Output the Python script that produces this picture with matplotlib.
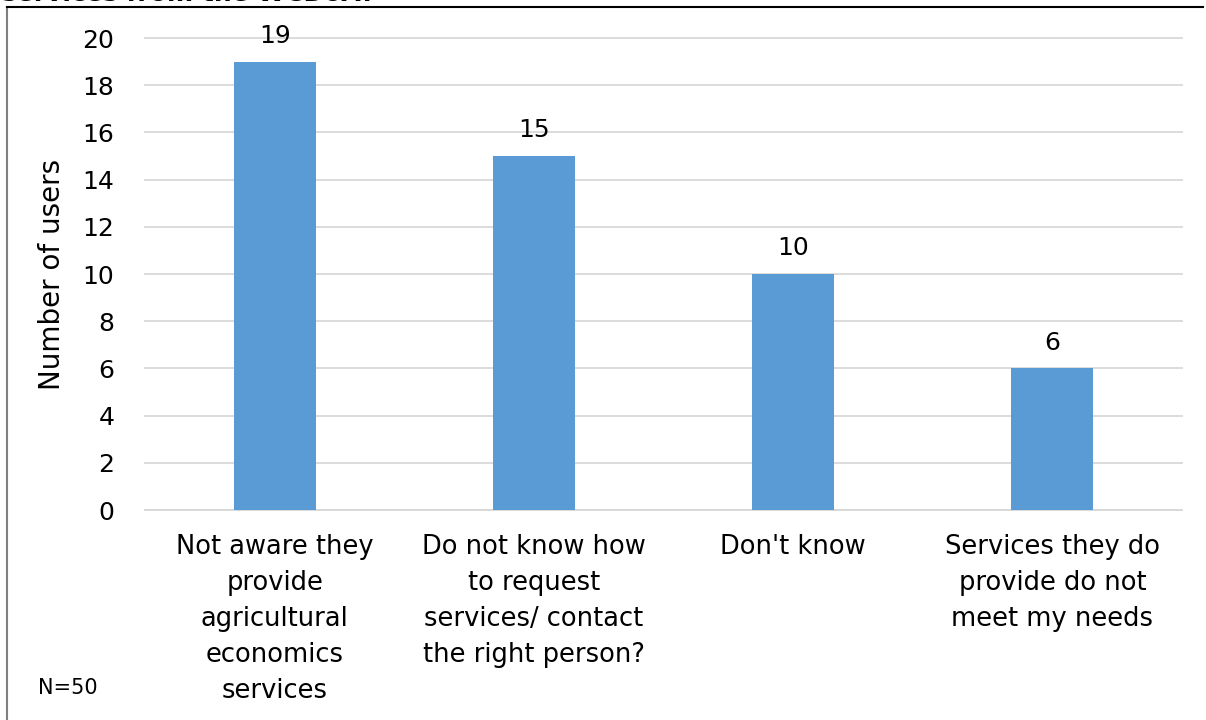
import matplotlib.pyplot as plt
from matplotlib.lines import Line2D

categories = [
    "Not aware they\nprovide\nagricultural\neconomics\nservices",
    "Do not know how\nto request\nservices/ contact\nthe right person?",
    "Don't know",
    "Services they do\nprovide do not\nmeet my needs",
]
values = [19, 15, 10, 6]
yticks = [0, 2, 4, 6, 8, 10, 12, 14, 16, 18, 20]

plt.rcParams['font.family'] = ['DejaVu Sans']

fig = plt.figure(figsize=(12.06, 7.2), dpi=100)
ax = fig.add_axes([145 / 1206, 1 - 510 / 720, (1182 - 145) / 1206, (510 - 38) / 720])

x = range(len(values))
bars = ax.bar(x, values, width=0.316, color='#5b9bd5', zorder=3)

# value labels over the bars
for b, v in zip(bars, values):
    ax.annotate(str(v), (b.get_x() + b.get_width() / 2, v), xytext=(0, 10),
                textcoords='offset points', ha='center', va='bottom',
                fontsize=18, color='#000000')

ax.set_xlim(-0.5, len(values) - 0.5)
ax.set_ylim(0, 20)
ax.set_yticks(yticks)
ax.set_xticks(list(x))
ax.set_xticklabels(categories, fontsize=18.5, linespacing=1.5, va='top')
ax.tick_params(axis='y', labelsize=18, length=0, pad=22)
ax.tick_params(axis='x', length=0, pad=17)
ax.grid(axis='y', color='#d9d9d9', linewidth=1.3, zorder=0)
for gl in ax.get_ygridlines():
    gl.set_clip_on(False)
for s in ['top', 'right', 'left']:
    ax.spines[s].set_visible(False)
ax.spines['bottom'].set_color('#d9d9d9')
ax.spines['bottom'].set_linewidth(1.3)

ax.set_ylabel("Number of users", fontsize=20, labelpad=12)

fig.text(38 / 1206, 1 - 688 / 720, "N=50", fontsize=15, va='center', ha='left')

# cut-off title at the very top
fig.text(2 / 1206, 1 - 1 / 720, "services from the WCDoA?", fontsize=18,
         fontweight='bold', va='baseline', ha='left')

# chart frame
fig.add_artist(Line2D([7 / 1206, 7 / 1206], [0, 1 - 7 / 720], color='#7f7f7f',
                      linewidth=1.5, transform=fig.transFigure))
fig.add_artist(Line2D([7 / 1206, 1203 / 1206], [1 - 7 / 720, 1 - 7 / 720],
                      color='#000000', linewidth=1.5, transform=fig.transFigure))

fig.savefig("out.png", dpi=100)
